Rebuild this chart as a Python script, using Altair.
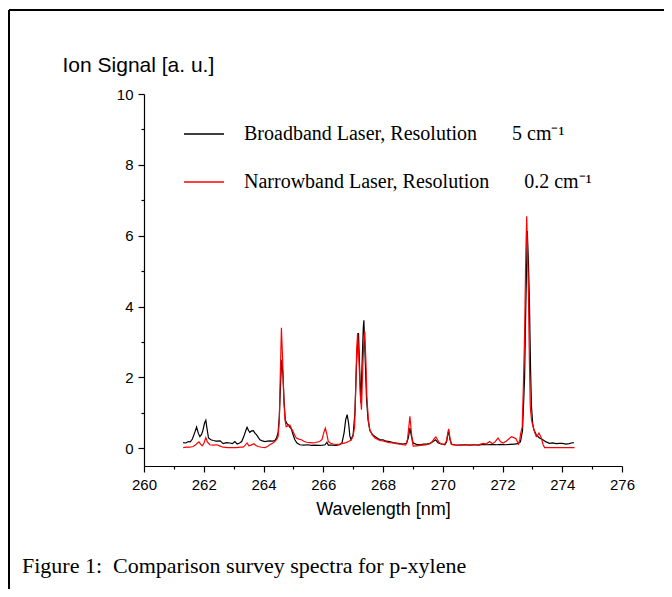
import altair as alt
import pandas as pd

# ---------------- data ----------------
bb_nm = [261.31, 261.40, 261.48, 261.55, 261.62, 261.70, 261.76, 261.82, 261.87, 261.93,
         261.97, 262.03, 262.07, 262.11, 262.16, 262.24, 262.32, 262.42, 262.55, 262.65,
         262.76, 262.87, 262.96, 263.04, 263.12, 263.20, 263.27, 263.34, 263.40, 263.45,
         263.50, 263.54, 263.60, 263.66, 263.72, 263.77, 263.83, 263.88, 263.96, 264.05,
         264.13, 264.21, 264.30, 264.38, 264.44, 264.49, 264.53, 264.57, 264.61, 264.65,
         264.69, 264.73, 264.78, 264.83, 264.88, 264.93, 264.99, 265.05, 265.12, 265.22,
         265.35, 265.48, 265.60, 265.72, 265.85, 265.98, 266.06, 266.12, 266.17, 266.30,
         266.42, 266.55, 266.63, 266.70, 266.75, 266.80, 266.85, 266.89, 266.93, 267.00,
         267.06, 267.11, 267.15, 267.18, 267.22, 267.26, 267.30, 267.34, 267.36, 267.40,
         267.45, 267.50, 267.56, 267.64, 267.73, 267.82, 267.90, 268.00, 268.11, 268.22,
         268.33, 268.45, 268.56, 268.67, 268.79, 268.85, 268.90, 268.95, 269.01, 269.12,
         269.24, 269.35, 269.46, 269.57, 269.68, 269.76, 269.85, 269.96, 270.07, 270.13,
         270.17, 270.20, 270.24, 270.29, 270.40, 270.57, 270.73, 270.90, 271.05, 271.20,
         271.35, 271.50, 271.65, 271.80, 271.95, 272.10, 272.25, 272.40, 272.52, 272.60,
         272.67, 272.74, 272.78, 272.83, 272.87, 272.90, 272.94, 272.97, 273.01, 273.05,
         273.13, 273.24, 273.35, 273.46, 273.57, 273.68, 273.79, 273.90, 274.01, 274.12,
         274.23, 274.31, 274.39]
bb_sig = [0.16, 0.15, 0.19, 0.18, 0.26, 0.45, 0.60, 0.42, 0.33, 0.40,
          0.50, 0.72, 0.79, 0.55, 0.29, 0.24, 0.22, 0.20, 0.21, 0.13,
          0.16, 0.15, 0.13, 0.19, 0.12, 0.15, 0.19, 0.33, 0.48, 0.59,
          0.50, 0.45, 0.49, 0.50, 0.42, 0.38, 0.30, 0.24, 0.21, 0.19,
          0.20, 0.21, 0.20, 0.22, 0.30, 0.45, 0.90, 1.80, 2.50, 2.10,
          1.30, 0.80, 0.70, 0.66, 0.60, 0.55, 0.38, 0.24, 0.15, 0.10,
          0.09, 0.10, 0.08, 0.09, 0.08, 0.09, 0.10, 0.17, 0.09, 0.09,
          0.08, 0.10, 0.16, 0.45, 0.80, 0.95, 0.70, 0.35, 0.24, 0.38,
          1.00, 2.30, 3.00, 3.25, 2.20, 1.28, 2.40, 3.40, 3.61, 2.60,
          1.37, 0.80, 0.50, 0.40, 0.33, 0.28, 0.24, 0.24, 0.20, 0.19,
          0.16, 0.15, 0.13, 0.12, 0.14, 0.30, 0.57, 0.35, 0.15, 0.11,
          0.10, 0.12, 0.12, 0.14, 0.19, 0.24, 0.15, 0.12, 0.10, 0.18,
          0.40, 0.47, 0.25, 0.12, 0.10, 0.09, 0.10, 0.09, 0.10, 0.09,
          0.11, 0.10, 0.11, 0.10, 0.11, 0.10, 0.11, 0.12, 0.13, 0.18,
          0.50, 2.00, 4.00, 6.13, 5.20, 4.20, 2.20, 1.18, 0.70, 0.52,
          0.38, 0.29, 0.24, 0.18, 0.14, 0.15, 0.13, 0.14, 0.14, 0.12,
          0.13, 0.15, 0.16]

nb_nm = [261.31, 261.42, 261.53, 261.64, 261.72, 261.79, 261.84, 261.90, 261.95, 262.01,
         262.07, 262.12, 262.20, 262.32, 262.44, 262.55, 262.65, 262.80, 262.95, 263.10,
         263.22, 263.32, 263.39, 263.45, 263.51, 263.58, 263.68, 263.75, 263.82, 263.93,
         264.05, 264.13, 264.21, 264.30, 264.38, 264.44, 264.49, 264.53, 264.56, 264.60,
         264.64, 264.68, 264.72, 264.76, 264.82, 264.88, 264.94, 264.99, 265.05, 265.10,
         265.18, 265.27, 265.35, 265.44, 265.55, 265.66, 265.77, 265.88, 265.96, 266.02,
         266.07, 266.12, 266.17, 266.25, 266.33, 266.44, 266.55, 266.66, 266.77, 266.86,
         266.94, 267.00, 267.05, 267.09, 267.12, 267.15, 267.19, 267.24, 267.28, 267.32,
         267.36, 267.39, 267.43, 267.46, 267.51, 267.56, 267.64, 267.73, 267.82, 267.90,
         268.00, 268.11, 268.22, 268.33, 268.45, 268.56, 268.67, 268.76, 268.82, 268.87,
         268.90, 268.94, 268.98, 269.01, 269.12, 269.24, 269.35, 269.46, 269.57, 269.64,
         269.72, 269.77, 269.82, 269.88, 269.96, 270.07, 270.13, 270.17, 270.20, 270.24,
         270.29, 270.40, 270.57, 270.73, 270.90, 271.05, 271.20, 271.35, 271.45, 271.57,
         271.66, 271.75, 271.85, 271.93, 272.02, 272.12, 272.22, 272.30, 272.38, 272.45,
         272.54, 272.58, 272.61, 272.66, 272.70, 272.74, 272.78, 272.81, 272.84, 272.87,
         272.90, 272.93, 272.97, 273.02, 273.08, 273.13, 273.18, 273.22, 273.26, 273.30,
         273.36, 273.41, 273.60, 273.80, 274.00, 274.20, 274.41]
nb_sig = [0.02, 0.03, 0.03, 0.05, 0.09, 0.15, 0.18, 0.11, 0.07, 0.15,
          0.30, 0.18, 0.10, 0.09, 0.10, 0.06, 0.03, 0.02, 0.02, 0.02,
          0.03, 0.03, 0.09, 0.15, 0.07, 0.09, 0.13, 0.08, 0.05, 0.03,
          0.02, 0.05, 0.10, 0.14, 0.19, 0.25, 0.33, 0.80, 2.00, 3.40,
          2.50, 1.37, 0.80, 0.61, 0.64, 0.66, 0.55, 0.47, 0.36, 0.29,
          0.26, 0.24, 0.20, 0.17, 0.16, 0.15, 0.17, 0.19, 0.25, 0.45,
          0.57, 0.40, 0.19, 0.14, 0.12, 0.11, 0.12, 0.14, 0.16, 0.20,
          0.24, 0.35, 0.61, 1.80, 2.80, 3.25, 2.60, 1.50, 1.09, 2.20,
          3.10, 3.30, 2.40, 1.47, 0.80, 0.52, 0.38, 0.29, 0.25, 0.22,
          0.21, 0.18, 0.16, 0.15, 0.13, 0.12, 0.10, 0.09, 0.25, 0.65,
          0.90, 0.55, 0.20, 0.06, 0.07, 0.08, 0.09, 0.10, 0.13, 0.18,
          0.28, 0.32, 0.25, 0.16, 0.12, 0.12, 0.22, 0.45, 0.55, 0.30,
          0.11, 0.09, 0.08, 0.10, 0.09, 0.10, 0.10, 0.14, 0.12, 0.19,
          0.13, 0.18, 0.29, 0.19, 0.15, 0.20, 0.27, 0.33, 0.30, 0.27,
          0.12, 0.25, 0.43, 0.60, 1.80, 3.25, 5.50, 6.55, 5.50, 4.20,
          2.50, 1.18, 0.80, 0.62, 0.45, 0.33, 0.38, 0.43, 0.36, 0.29,
          0.10, 0.02, 0.02, 0.02, 0.02, 0.02, 0.02]

NB = "\u00a0"
series_names = ["Broadband Laser, Resolution" + NB * 7 + "5 cm\u207b\u00b9",
                "Narrowband Laser, Resolution" + NB * 7 + "0.2 cm\u207b\u00b9"]
series_colors = ["#000000", "#ff0000"]
x_ticks = list(range(260, 277))
y_ticks = list(range(0, 11))
caption = "Figure 1:" + NB * 2 + "Comparison survey spectra for p-xylene"

df_bb = pd.DataFrame({"nm": bb_nm, "sig": bb_sig, "series": series_names[0]})
df_nb = pd.DataFrame({"nm": nb_nm, "sig": nb_sig, "series": series_names[1]})

# ---------------- encodings ----------------
x_enc = alt.X(
    "nm:Q",
    scale=alt.Scale(domain=[260, 276], nice=False, zero=False),
    axis=alt.Axis(
        values=x_ticks,
        title="Wavelength [nm]",
        titleFontSize=18,
        labelExpr="datum.value % 2 === 0 ? datum.label : ''",
        tickSize={"condition": {"test": "datum.value % 2 !== 0", "value": 3}, "value": 6},
        labelFlush=False,
        labelPadding=5,
        titlePadding=8,
        grid=False,
    ),
)
y_enc = alt.Y(
    "sig:Q",
    scale=alt.Scale(domain=[-0.5, 10], nice=False, zero=False),
    axis=alt.Axis(
        values=y_ticks,
        title="Ion Signal [a. u.]",
        titleFontSize=21,
        labelExpr="datum.value % 2 === 0 ? datum.label : ''",
        tickSize={"condition": {"test": "datum.value % 2 !== 0", "value": 3}, "value": 6},
        labelFlush=False,
        labelPadding=5,
        titleAngle=0,
        titleAlign="left",
        titleBaseline="alphabetic",
        titleX=-82,
        titleY=-23,
        grid=False,
    ),
)
color_enc = alt.Color(
    "series:N",
    scale=alt.Scale(domain=series_names, range=series_colors),
    legend=alt.Legend(
        title=None,
        orient="none",
        legendX=39,
        legendY=19,
        symbolType="stroke",
        symbolSize=1600,
        symbolStrokeWidth=1.5,
        labelFont="Liberation Serif",
        labelFontSize=20,
        labelColor="black",
        labelOffset=19,
        labelLimit=700,
        rowPadding=17,
        padding=0,
    ),
)

black_line = alt.Chart(df_bb).mark_line(strokeWidth=1.2).encode(x=x_enc, y=y_enc, color=color_enc)
red_line = alt.Chart(df_nb).mark_line(strokeWidth=1.2).encode(x=x_enc, y=y_enc, color=color_enc)

deco = pd.DataFrame({"k": [0]})
top_border = alt.Chart(deco).mark_rule(color="black", strokeWidth=2).encode(
    x=alt.value(-135), x2=alt.value(600), y=alt.value(-84))
left_border = alt.Chart(deco).mark_rule(color="black", strokeWidth=2).encode(
    x=alt.value(-135), y=alt.value(-84), y2=alt.value(600))
caption_text = alt.Chart(deco).mark_text(
    font="Liberation Serif", fontSize=22, align="left", baseline="alphabetic", color="black"
).encode(x=alt.value(-122), y=alt.value(479), text=alt.value(caption))

chart = alt.layer(black_line, red_line, top_border, left_border, caption_text).properties(
    width=478,
    height=372,
    autosize=alt.AutoSizeParams(type="none"),
    padding={"left": 136, "top": 86, "right": 42, "bottom": 123},
).configure_view(stroke=None).configure_axis(
    domainColor="black",
    tickColor="black",
    labelColor="black",
    titleColor="black",
    labelFont="Liberation Sans",
    titleFont="Liberation Sans",
    labelFontSize=15,
    titleFontWeight="normal",
    domainWidth=1.2,
    tickWidth=1.2,
)

chart.save("out.html", embed_options={"renderer": "svg", "actions": False})
